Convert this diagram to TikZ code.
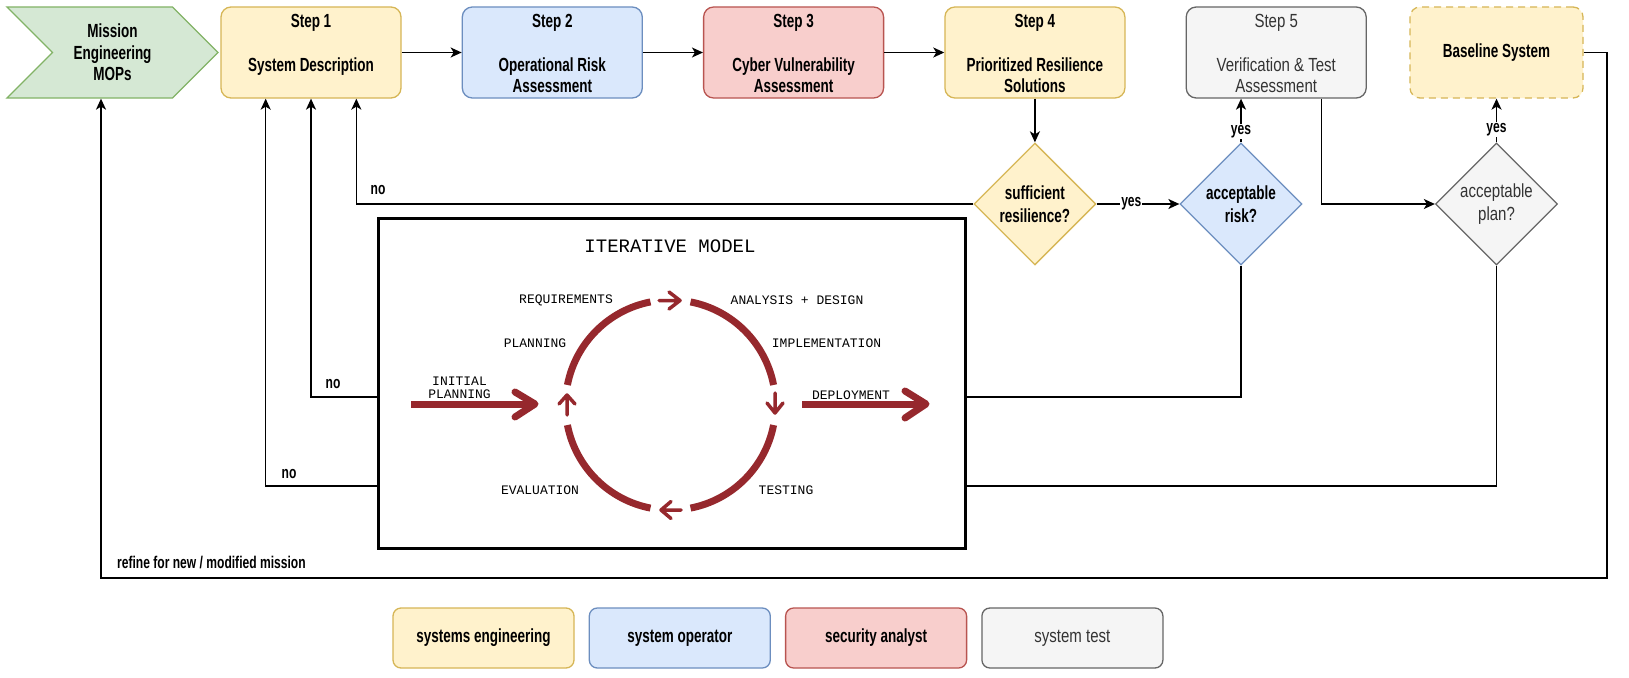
\documentclass[tikz,border=0pt]{standalone}
\usepackage{fontspec}
\setmainfont{Liberation Sans}[FakeStretch=0.79]
\newfontfamily\boldcond{Liberation Sans}[FakeStretch=0.71]
\newfontfamily\monofont{Liberation Mono}
\usetikzlibrary{calc,positioning,chains,shapes.geometric,shapes.symbols,arrows.meta}

\definecolor{yfill}{HTML}{FFF2CC}
\definecolor{ydraw}{HTML}{D6B656}
\definecolor{bfill}{HTML}{DAE8FC}
\definecolor{bdraw}{HTML}{6C8EBF}
\definecolor{rfill}{HTML}{F8CECC}
\definecolor{rdraw}{HTML}{B85450}
\definecolor{gfill}{HTML}{F5F5F5}
\definecolor{gdraw}{HTML}{666666}
\definecolor{gtext}{HTML}{333333}
\definecolor{mfill}{HTML}{D5E8D4}
\definecolor{mdraw}{HTML}{82B366}
\definecolor{cyc}{RGB}{150,40,45}

\begin{document}
\begin{tikzpicture}[x=1pt, y=-1pt, >={Stealth[length=11pt,width=10pt,inset=3pt]},
    stepbox/.style={rectangle, rounded corners=10pt, draw, line width=1.3pt,
      minimum width=180pt, minimum height=91pt, inner sep=0pt,
      font=\boldcond\bfseries\fontsize{19}{21.6}\selectfont},
    steptext/.style={anchor=north, inner sep=0pt, align=center,
      font=\boldcond\bfseries\fontsize{19}{21.6}\selectfont},
    mop/.style={signal, signal from=west, signal to=east, signal pointer angle=90,
      draw=mdraw, fill=mfill, line width=1.3pt, minimum width=211pt,
      minimum height=91pt, inner sep=0pt, align=center,
      font=\boldcond\bfseries\fontsize{19}{21.6}\selectfont},
    decision/.style={diamond, aspect=1, draw, line width=1.3pt, minimum width=122pt,
      minimum height=122pt, inner sep=0pt, align=center,
      font=\boldcond\bfseries\fontsize{19}{22.5}\selectfont},
    legbox/.style={rectangle, rounded corners=8pt, draw, line width=1.3pt,
      minimum width=181pt, minimum height=60pt,
      font=\boldcond\bfseries\fontsize{19}{21.6}\selectfont},
    flow/.style={->, line width=1.5pt},
    lbl/.style={inner sep=1pt, font=\boldcond\bfseries\fontsize{17}{18}\selectfont},
    mono/.style={inner sep=0pt, align=center, font=\monofont\fontsize{13}{13}\selectfont},
    cycarc/.style={draw=cyc, line width=7pt},
    cycarrow/.style={draw=cyc, line width=3.5pt, line cap=round, line join=round},
    bigarrow/.style={draw=cyc, line width=7pt, line join=round},
    start chain, node distance=60pt]
    \useasboundingbox (0,0) rectangle (1629,677);

    % top row
    \node[mop] (mop) at (112.5,52.5) {Mission\\Engineering\\MOPs};
    \node[stepbox, on chain, fill=yfill, draw=ydraw] (s1) at (311,52.5) {};
    \node[stepbox, on chain, fill=bfill, draw=bdraw] (s2) {};
    \node[stepbox, on chain, fill=rfill, draw=rdraw] (s3) {};
    \node[stepbox, on chain, fill=yfill, draw=ydraw] (s4) {};
    \node[stepbox, on chain, fill=gfill, draw=gdraw] (s5) {};
    \node[stepbox, fill=yfill, draw=ydraw, dash pattern=on 7pt off 5pt,
      minimum width=173pt] (base) at (1496.5,52.5) {Baseline System};
    \node[steptext] (s1t) at ($(s1.north)+(0,8)$) {Step 1\\[21.6pt]System Description};
    \node[steptext] (s2t) at ($(s2.north)+(0,8)$) {Step 2\\[21.6pt]Operational Risk\\Assessment};
    \node[steptext] (s3t) at ($(s3.north)+(0,8)$) {Step 3\\[21.6pt]Cyber Vulnerability\\Assessment};
    \node[steptext] (s4t) at ($(s4.north)+(0,8)$) {Step 4\\[21.6pt]Prioritized Resilience\\Solutions};
    \node[steptext, text=gtext, font=\normalfont\fontsize{19}{21.6}\selectfont] (s5t)
      at ($(s5.north)+(0,8)$) {Step 5\\[21.6pt]Verification \& Test\\Assessment};

    \coordinate (s1l) at ($(s1.south west)!0.25!(s1.south east)$);
    \coordinate (s1r) at ($(s1.south west)!0.75!(s1.south east)$);
    \coordinate (s5b) at ($(s5.south west)!0.75!(s5.south east)$);
    \coordinate (mopb) at (mop.south -| 101,0);

    % decisions
    \node[decision, fill=yfill, draw=ydraw] (suff) at (s4 |- 0,204) {sufficient\\resilience?};
    \node[decision, fill=bfill, draw=bdraw] (risk) at (1241,204) {acceptable\\risk?};
    \node[decision, fill=gfill, draw=gdraw, text=gtext,
      font=\normalfont\fontsize{19}{22.5}\selectfont] (plan) at (base |- 0,204) {acceptable\\plan?};

    % these run behind the model box
    \draw[flow] (risk.south) |- (s1.south |- 0,397) -- (s1.south);
    \draw[flow] (plan.south) |- (s1l |- 0,486) -- (s1l);

    \node[draw, line width=3pt, fill=white, minimum width=587pt, minimum height=330pt,
      inner sep=0pt] (im) at (671.5,383) {};

    \draw[flow] (s1) -- (s2);
    \draw[flow] (s2) -- (s3);
    \draw[flow] (s3) -- (s4);
    \draw[flow] (s4) -- (suff);
    \draw[flow] (suff) -- node[lbl, fill=white, pos=0.42] (y1) {yes} (risk);
    \draw[flow] (suff) -| (s1r);
    \draw[flow] (risk) -- node[lbl, fill=white, pos=0.25] (y2) {yes} (risk |- s5.south);
    \draw[flow] (s5b) |- (plan);
    \draw[flow] (plan) -- node[lbl, fill=white, pos=0.3] (y3) {yes} (base);
    \draw[flow] (base) -| (1607,578) -| (mopb);

    \node[lbl] (no1) at (378,190) {no};
    \node[lbl] (no2) at (333,384) {no};
    \node[lbl] (no3) at (289,474) {no};
    \node[lbl, anchor=west] (refine) at (116,563) {refine for new / modified mission};

    % iterative model
    \node[mono, font=\monofont\fontsize{19}{19}\selectfont] (title) at (670,246) {ITERATIVE MODEL};
    \coordinate (cc) at (670.5,405);
    \draw[cycarc] (cc) ++(11:105) arc[start angle=11, end angle=79, radius=105];
    \draw[cycarc] (cc) ++(101:105) arc[start angle=101, end angle=169, radius=105];
    \draw[cycarc] (cc) ++(191:105) arc[start angle=191, end angle=259, radius=105];
    \draw[cycarc] (cc) ++(281:105) arc[start angle=281, end angle=349, radius=105];
    \draw[cycarrow] (659,300.5) -- (680,300.5) (669,292) -- (680,300.5) -- (669,309);
    \draw[cycarrow] (775,393) -- (775,413) (767,403) -- (775,413) -- (783,403);
    \draw[cycarrow] (681,510) -- (661,510) (671,501.5) -- (661,510) -- (671,518.5);
    \draw[cycarrow] (567,415) -- (567,395) (559,404) -- (567,395) -- (575,404);
    \draw[bigarrow] (411,404) -- (534,404);
    \draw[bigarrow, line cap=round] (515,392) -- (535,404) -- (515,417);
    \draw[bigarrow] (802,404) -- (925,404);
    \draw[bigarrow, line cap=round] (905,391) -- (926,404) -- (905,418);

    \node[mono] (req) at (566,300) {REQUIREMENTS};
    \node[mono] (ana) at (797,300) {ANALYSIS + DESIGN};
    \node[mono] (pla) at (535,343) {PLANNING};
    \node[mono] (imp) at (826.5,343) {IMPLEMENTATION};
    \node[mono] (ini) at (459.5,387.5) {INITIAL\\PLANNING};
    \node[mono] (dep) at (851,395) {DEPLOYMENT};
    \node[mono] (eva) at (540,490) {EVALUATION};
    \node[mono] (tes) at (786,490) {TESTING};

    % legend
    \node[legbox, fill=yfill, draw=ydraw] (lg1) at (483.5,638) {systems engineering};
    \node[legbox, fill=bfill, draw=bdraw, right=14pt of lg1] (lg2) {system operator};
    \node[legbox, fill=rfill, draw=rdraw, right=14pt of lg2] (lg3) {security analyst};
    \node[legbox, fill=gfill, draw=gdraw, text=gtext,
      font=\normalfont\fontsize{19}{21.6}\selectfont, right=14pt of lg3] (lg4) {system test};
\end{tikzpicture}
\end{document}
